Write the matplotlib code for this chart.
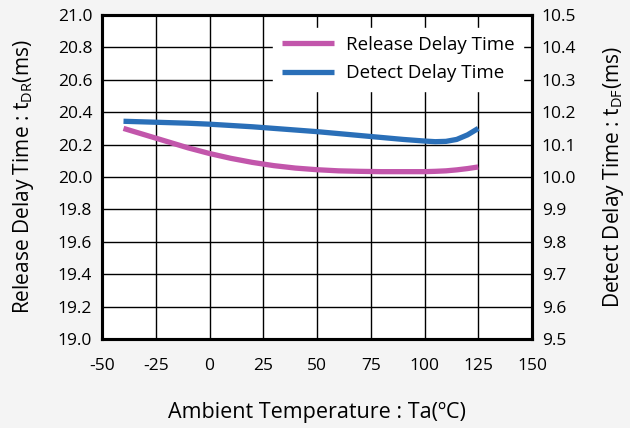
import matplotlib.pyplot as plt

# Data
temp = [-40, -30, -20, -10, 0, 10, 20, 30, 40, 50, 60, 70, 80, 90, 100, 105, 110, 115, 120, 125]
release = [20.30, 20.26, 20.22, 20.18, 20.145, 20.115, 20.09, 20.07, 20.055, 20.045,
           20.038, 20.035, 20.033, 20.033, 20.033, 20.035, 20.038, 20.044, 20.052, 20.062]
detect = [10.172, 10.170, 10.168, 10.166, 10.163, 10.159, 10.155, 10.150, 10.145, 10.140,
          10.134, 10.128, 10.122, 10.116, 10.111, 10.109, 10.110, 10.116, 10.130, 10.150]

xticks = [-50, -25, 0, 25, 50, 75, 100, 125, 150]
left_ticks = [19.0, 19.2, 19.4, 19.6, 19.8, 20.0, 20.2, 20.4, 20.6, 20.8, 21.0]
right_ticks = [9.5, 9.6, 9.7, 9.8, 9.9, 10.0, 10.1, 10.2, 10.3, 10.4, 10.5]

plt.rcParams['font.family'] = ['Open Sans', 'DejaVu Sans']

fig = plt.figure(figsize=(6.3, 4.28), dpi=100, facecolor='#f4f4f4')
ax = fig.add_axes([102/630, 1 - 339/428, 430/630, 324/428])
ax.set_facecolor('white')
ax2 = ax.twinx()

l1, = ax.plot(temp, release, color='#c256ab', linewidth=3.8, solid_capstyle='butt',
              label='Release Delay Time')
l2, = ax2.plot(temp, detect, color='#2a6fb8', linewidth=3.8, solid_capstyle='butt',
               label='Detect Delay Time')

ax.set_xlim(-50, 150)
ax.set_ylim(19.0, 21.0)
ax2.set_ylim(9.5, 10.5)
ax.set_xticks(xticks)
ax.set_xticklabels([str(t) for t in xticks])
ax.set_yticks(left_ticks)
ax.set_yticklabels(['%.1f' % v for v in left_ticks])
ax2.set_yticks(right_ticks)
ax2.set_yticklabels(['%.1f' % v for v in right_ticks])

ax.grid(True, color='black', linewidth=1.0)
ax.set_axisbelow(True)
ax.tick_params(axis='x', length=0, labelsize=12.5, pad=14)
ax.tick_params(axis='y', length=0, labelsize=12.5, pad=7)
ax2.tick_params(length=0, labelsize=12.5, pad=7)
for a in (ax, ax2):
    for s in a.spines.values():
        s.set_linewidth(2.2)

ax.set_xlabel('Ambient Temperature : Ta(ºC)', fontsize=15.5, labelpad=20)
ax.set_ylabel(r'Release Delay Time : t$\mathregular{_{DR}}$(ms)', fontsize=15, labelpad=16)
ax2.set_ylabel(r'Detect Delay Time : t$\mathregular{_{DF}}$(ms)', fontsize=15, labelpad=18)

leg = ax2.legend(handles=[l1, l2], loc='upper right', bbox_to_anchor=(1.0, 0.99),
                 fontsize=13.5, frameon=True, fancybox=False, handlelength=2.8,
                 handletextpad=0.6, borderpad=0.45, labelspacing=0.55)
leg.get_frame().set_edgecolor('white')
leg.get_frame().set_facecolor('white')
leg.get_frame().set_alpha(1.0)

fig.savefig('out.png', dpi=100, facecolor=fig.get_facecolor())
